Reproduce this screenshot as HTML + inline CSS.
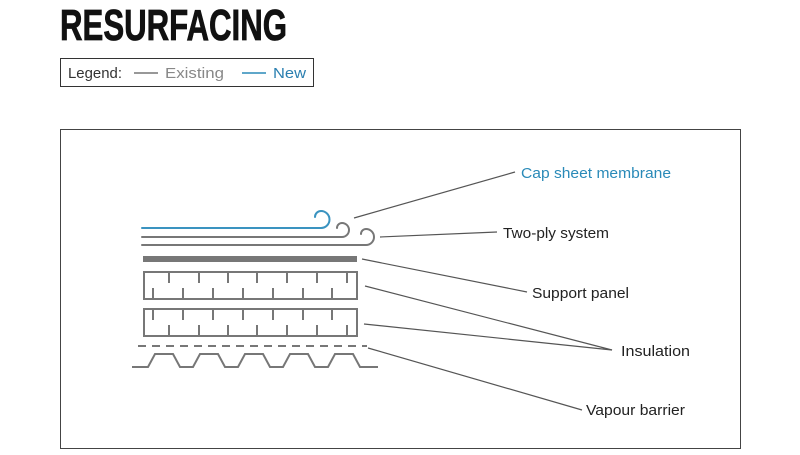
<!DOCTYPE html>
<html><head><meta charset="utf-8"><style>
html,body{margin:0;padding:0;background:#fff;width:800px;height:455px;overflow:hidden}
svg{display:block}
</style></head><body>
<svg width="800" height="455" xmlns="http://www.w3.org/2000/svg" font-family="'Liberation Sans Narrow','Liberation Sans',sans-serif">
<text x="60" y="40" font-size="44" font-weight="bold" fill="#111" stroke="#111" stroke-width="0.8" textLength="227" lengthAdjust="spacingAndGlyphs">RESURFACING</text>
<rect x="60.5" y="58.5" width="253" height="28" fill="none" stroke="#333" stroke-width="1"/>
<text x="68" y="78" font-size="15" fill="#333" textLength="54" lengthAdjust="spacingAndGlyphs">Legend:</text>
<line x1="134" y1="73" x2="158" y2="73" stroke="#777" stroke-width="1.5"/>
<text x="165" y="78" font-size="15" fill="#888" textLength="59" lengthAdjust="spacingAndGlyphs">Existing</text>
<line x1="242" y1="73" x2="266" y2="73" stroke="#2a8ab8" stroke-width="1.5"/>
<text x="273" y="78" font-size="15" fill="#2a7fb0" textLength="33" lengthAdjust="spacingAndGlyphs">New</text>
<rect x="60.5" y="129.5" width="680" height="319" fill="none" stroke="#444" stroke-width="1"/>
<g fill="none" stroke-width="2" stroke-linecap="round">
<path d="M142 228 H321 A8.5 8.5 0 0 0 321 211 A6 6 0 0 0 315 217" stroke="#3a93c0"/>
<path d="M142 237 H342 A7 7 0 0 0 342 223 A5 5 0 0 0 337 228" stroke="#777"/>
<path d="M142 245 H366 A8 8 0 0 0 366 229 A5 5 0 0 0 361 234" stroke="#777"/>
</g>
<rect x="143" y="256" width="214" height="6" fill="#777"/>
<g fill="none" stroke="#777" stroke-width="2">
<rect x="144" y="272" width="213" height="27"/>
<rect x="144" y="309" width="213" height="27"/>
<path d="M169 272v11M199 272v11M228 272v11M257 272v11M287 272v11M317 272v11M347 272v11
M153 288v11M183 288v11M213 288v11M243 288v11M273 288v11M303 288v11M332 288v11
M153 309v11M183 309v11M213 309v11M243 309v11M273 309v11M303 309v11M332 309v11
M169 325v11M199 325v11M228 325v11M257 325v11M287 325v11M317 325v11M347 325v11"/>
<line x1="138" y1="346" x2="367" y2="346" stroke-dasharray="8 6"/>
<path d="M132 367 H148 L155 354 H173 L180 367 H193 L200 354 H218 L225 367 H238 L245 354 H263 L270 367 H283 L290 354 H308 L315 367 H328 L335 354 H353 L360 367 H378"/>
</g>
<g stroke="#555" stroke-width="1.2">
<line x1="354" y1="218" x2="515" y2="172"/>
<line x1="380" y1="237" x2="497" y2="232"/>
<line x1="362" y1="259" x2="527" y2="292"/>
<line x1="365" y1="286" x2="612" y2="350"/>
<line x1="364" y1="324" x2="612" y2="350"/>
<line x1="368" y1="348" x2="582" y2="410"/>
</g>
<g font-size="15" fill="#222">
<text x="521" y="178" fill="#2a8ab8" textLength="150" lengthAdjust="spacingAndGlyphs">Cap sheet membrane</text>
<text x="503" y="238" textLength="106" lengthAdjust="spacingAndGlyphs">Two-ply system</text>
<text x="532" y="298" textLength="97" lengthAdjust="spacingAndGlyphs">Support panel</text>
<text x="621" y="356" textLength="69" lengthAdjust="spacingAndGlyphs">Insulation</text>
<text x="586" y="415" textLength="99" lengthAdjust="spacingAndGlyphs">Vapour barrier</text>
</g>
</svg>
</body></html>
